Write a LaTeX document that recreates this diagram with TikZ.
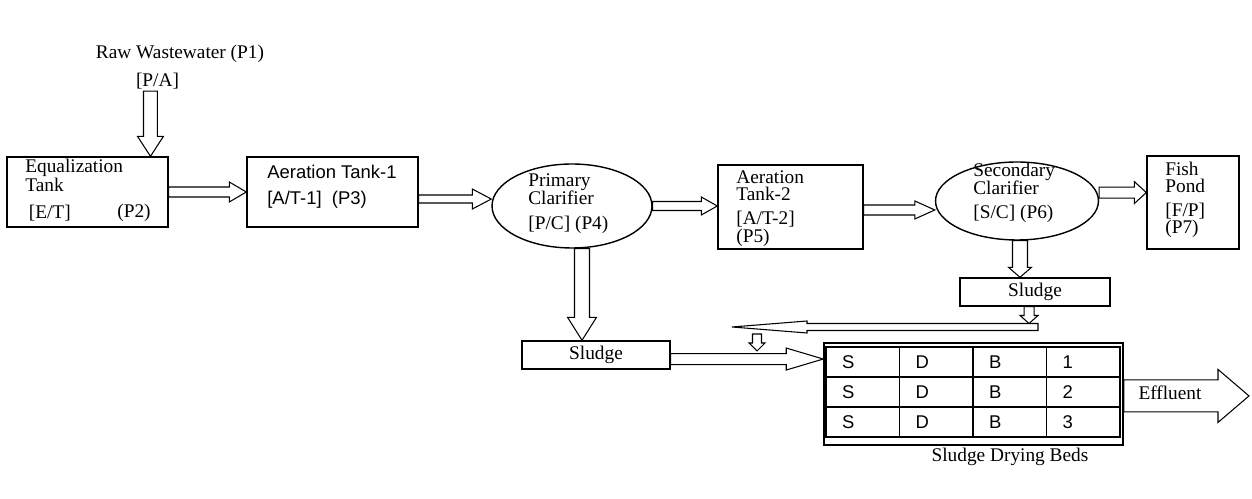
\documentclass[tikz,border=0pt]{standalone}
\usepackage{fontspec}
\setmainfont{Liberation Serif}
\setsansfont{Liberation Sans}
\usetikzlibrary{calc,shapes.geometric}

\newcommand{\pxu}{0.5690551pt}
% hollow block arrows: from, to, shaft half width, head half width, head length
\newcommand{\harrow}[5]{%
  \draw[hollow] let \p1=(#1), \p2=(#2) in
    ({\x1},{\y1-#3*\pxu}) -- ({\x2-(#5)*\pxu},{\y1-#3*\pxu}) -- ({\x2-(#5)*\pxu},{\y1-#4*\pxu}) -- ({\x2},{\y1})
    -- ({\x2-(#5)*\pxu},{\y1+#4*\pxu}) -- ({\x2-(#5)*\pxu},{\y1+#3*\pxu}) -- ({\x1},{\y1+#3*\pxu}) -- cycle;}
\newcommand{\varrow}[5]{%
  \draw[hollow] let \p1=(#1), \p2=(#2) in
    ({\x1-#3*\pxu},{\y1}) -- ({\x1-#3*\pxu},{\y2+(#5)*\pxu}) -- ({\x1-#4*\pxu},{\y2+(#5)*\pxu}) -- ({\x1},{\y2})
    -- ({\x1+#4*\pxu},{\y2+(#5)*\pxu}) -- ({\x1+#3*\pxu},{\y2+(#5)*\pxu}) -- ({\x1+#3*\pxu},{\y1}) -- cycle;}

\tikzstyle{tank}=[draw,line width=0.8pt,inner sep=0pt]
\tikzstyle{basin}=[ellipse,draw,line width=0.8pt,inner sep=0pt]
\tikzstyle{hollow}=[draw,line width=0.6pt,line join=miter]
\tikzstyle{lbl}=[font=\fontsize{11}{13}\selectfont,inner sep=0pt]
\tikzstyle{slbl}=[font=\sffamily\fontsize{10.5}{12}\selectfont,inner sep=0pt]
\tikzstyle{bedcell}=[draw,line width=0.75pt,font=\sffamily\fontsize{10.5}{12}\selectfont,text width=0.83cm,inner xsep=0.32cm,inner ysep=0pt,minimum height=0.6cm,align=left]

\begin{document}
\begin{tikzpicture}[x=0.02cm,y=-0.02cm]
\useasboundingbox (0,0) rectangle (1252,499);

% inlet
\node[lbl] (raw) at (180,54) {Raw Wastewater (P1)};
\node[lbl] (pa) at (157.5,81) {[P/A]};

% treatment units
\node[tank,minimum width=3.22cm,minimum height=1.40cm] (eq) at (87.5,192) {};
\node[lbl,anchor=west] (eq1) at (25,168) {Equalization};
\node[lbl,anchor=west] (eq2) at (25,185) {Tank};
\node[lbl,anchor=west] (eq3) at (28.5,213) {[E/T]};
\node[lbl,anchor=west] (eq4) at (117,213) {(P2)};

\node[tank,minimum width=3.42cm,minimum height=1.40cm] (a1) at (332.5,192) {};
\node[slbl,anchor=west] (a11) at (267,172) {Aeration Tank-1};
\node[slbl,anchor=west] (a12) at (267,200) {[A/T-1]\ \ (P3)};

\node[basin,minimum width=3.20cm,minimum height=1.68cm] (pc) at (572,206) {};
\node[lbl,anchor=west] (pc1) at (528,182) {Primary};
\node[lbl,anchor=west] (pc2) at (528,198) {Clarifier};
\node[lbl,anchor=west] (pc3) at (528,225) {[P/C] (P4)};

\node[tank,minimum width=2.90cm,minimum height=1.68cm] (a2) at (790.5,207) {};
\node[lbl,anchor=west] (a21) at (736,177) {Aeration};
\node[lbl,anchor=west] (a22) at (736,193.5) {Tank-2};
\node[lbl,anchor=west] (a23) at (736,219.5) {[A/T-2]};
\node[lbl,anchor=west] (a24) at (736,237.5) {(P5)};

\node[basin,minimum width=3.26cm,minimum height=1.56cm] (sc) at (1017,201) {};
\node[lbl,anchor=west] (sc1) at (973,172) {Secondary};
\node[lbl,anchor=west] (sc2) at (973,188) {Clarifier};
\node[lbl,anchor=west] (sc3) at (973,214) {[S/C] (P6)};

\node[tank,minimum width=1.84cm,minimum height=1.86cm] (fp) at (1193,202.5) {};
\node[lbl,anchor=west] (fp1) at (1165,168.5) {Fish};
\node[lbl,anchor=west] (fp2) at (1165,185.5) {Pond};
\node[lbl,anchor=west] (fp3) at (1165,211) {[F/P]};
\node[lbl,anchor=west] (fp4) at (1165,229) {(P7)};

% sludge line
\node[tank,lbl,minimum width=2.96cm,minimum height=0.56cm] (sl1) at (596,355) {Sludge};
\node[tank,lbl,minimum width=3.00cm,minimum height=0.56cm] (sl2) at (1035,292) {Sludge};
\coordinate (ret) at (1038,327);
\coordinate (retend) at (732,327);
\coordinate (drop) at (757,334);
\coordinate (dropend) at (757,351);

% drying beds
\node[tank,line width=0.9pt,minimum width=5.98cm,minimum height=2.04cm] (sdb) at (973.5,394) {};
\foreach \row in {1,2,3}
  \foreach \col/\lab in {1/S,2/D,3/B,4/\row}
    \node[bedcell] (b\row\col) at ({826+73.5*(\col-0.5)},{347+30*(\row-0.5)}) {\lab};
\node[lbl] (beds) at (1010,457) {Sludge Drying Beds};
\coordinate (effout) at (1249,396);

% flow arrows
\varrow{[xshift=-4pt,yshift=-1pt]pa.south}{eq.north}{7}{13}{20}
\harrow{eq.east}{a1.west}{5}{10}{17}
\harrow{[yshift=-4pt]a1.east}{pc.west}{4}{10}{19}
\harrow{pc.east}{a2.west}{4.5}{9}{16}
\harrow{[yshift=-1.7pt]a2.east}{sc.west}{5}{9}{20}
\harrow{[yshift=4.8pt]sc.east}{fp.west}{5.5}{11}{12}
\varrow{[xshift=1.7pt]sc.south}{sl2.north}{7.5}{11.5}{10}
\varrow{[xshift=-3.4pt]sl2.south}{[yshift=2pt]ret}{5}{9}{8}
\harrow{ret}{retend}{3.5}{6}{-75}
\varrow{drop}{dropend}{4.5}{8}{8}
\varrow{[xshift=5.7pt]pc.south}{sl1.north}{7.5}{14.5}{23}
\harrow{[yshift=-2.3pt]sl1.east}{sdb.west}{5.5}{11}{37}
\harrow{[yshift=-1.1pt]sdb.east}{effout}{16}{26.5}{31}
\node[lbl] (eff) at (1170,393) {Effluent};

\end{tikzpicture}
\end{document}
